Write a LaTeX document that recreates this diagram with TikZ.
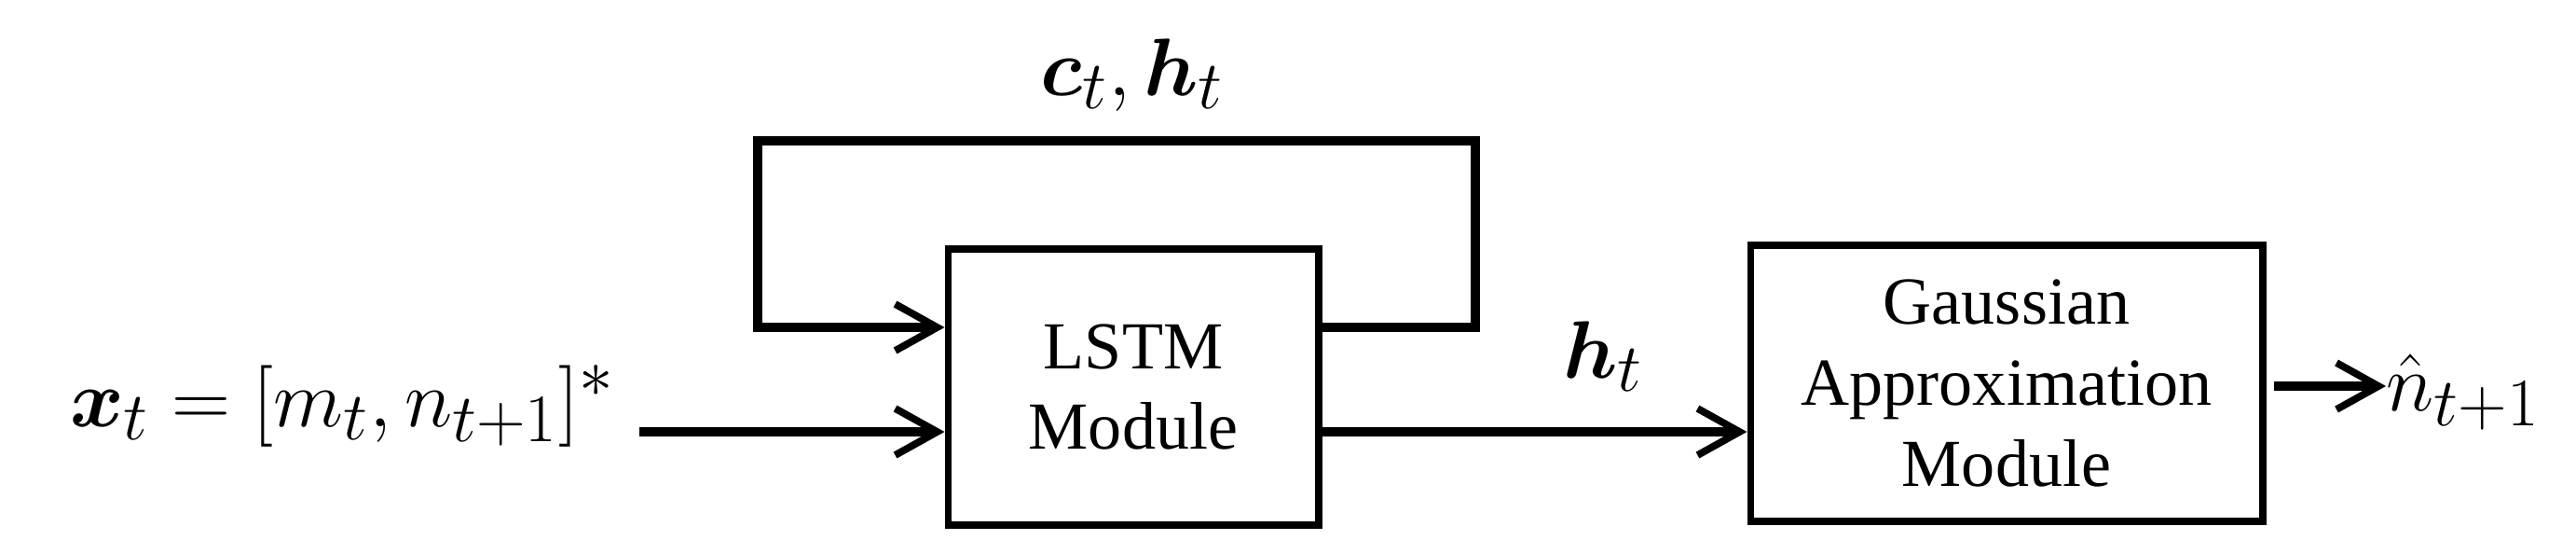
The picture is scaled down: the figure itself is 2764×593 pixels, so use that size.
\documentclass[tikz,border=0pt]{standalone}
\usepackage{amsmath,bm}
\usepackage{fontspec}
\setmainfont{Liberation Serif}
\usetikzlibrary{arrows.meta,calc}
\begin{document}
\begin{tikzpicture}[x=0.01cm,y=-0.01cm,
  box/.style={draw,line width=2.2pt,minimum width=3.97cm,minimum height=2.96cm,align=center,font=\fontsize{20.5}{24.7}\selectfont,inner sep=0pt},
  arr/.style={line width=2.6pt,-{Straight Barb[length=4.5mm,width=5mm,line width=2.2pt]}},
  lab/.style={font=\fontsize{30}{34}\selectfont,inner sep=0pt}]
\useasboundingbox (0,0) rectangle (2764,593);
\node[box] (lstm) at (1216,415) {LSTM\\Module};
\node[box,minimum width=5.49cm] (gauss) at (2153,411) {Gaussian\\Approximation\\Module};
\coordinate (in) at (686,463);
\coordinate (fb) at (813,351);
\coordinate (top) at (1583,151);
\coordinate (out) at (2440,414);
\node[lab,anchor=base east] (xin) at (660,457) {$\bm{x}_t=[m_t,n_{t+1}]^{*}$};
\node[lab,anchor=base] (ch) at (1215,102) {$\bm{c}_t,\bm{h}_t$};
\node[lab,anchor=base] (hl) at (1720,405) {$\bm{h}_t$};
\node[lab,anchor=base west] (nh) at (2560,440) {$\hat{n}_{t+1}$};
\draw[arr] (in) -- (in -| lstm.west);
\draw[arr] (lstm.east |- in) -- (gauss.west |- in);
\draw[arr,line join=miter] (lstm.east |- fb) -- (top |- fb) -- (top) -- (fb |- top) -- (fb) -- (fb -| lstm.west);
\draw[arr] (out) -- (out -| nh.west);
\end{tikzpicture}
\end{document}
